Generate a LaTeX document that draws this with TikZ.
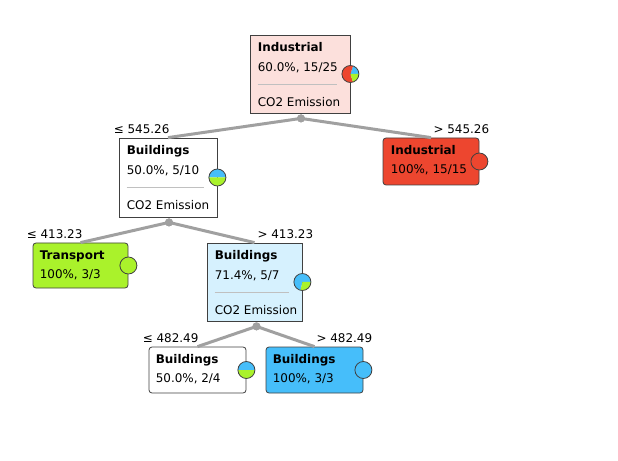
\documentclass[tikz,border=0pt]{standalone}
\usepackage{fontspec}
\setmainfont{DejaVu Sans}
\usepackage{tikz}
\usetikzlibrary{calc,positioning}

\definecolor{cred}{RGB}{237,70,47}
\definecolor{cblue}{RGB}{70,190,250}
\definecolor{cgreen}{RGB}{170,242,43}
\definecolor{boxline}{RGB}{64,64,64}
\definecolor{edgegray}{RGB}{160,160,160}
\definecolor{sepgray}{RGB}{192,192,192}

\begin{document}
\begin{tikzpicture}[x=1bp, y=-1bp, font=\fontsize{12}{14}\selectfont,
  inner/.style={rectangle, draw=boxline, line width=0.8bp, inner sep=0pt},
  leaf/.style={rectangle, draw=boxline, line width=0.8bp, rounded corners=3bp, inner sep=0pt, minimum width=97bp, minimum height=46bp},
  ttl/.style={anchor=base west, inner sep=0pt, font=\fontsize{12}{14}\selectfont\bfseries},
  txt/.style={anchor=base west, inner sep=0pt},
  sep/.style={draw=sepgray, line width=0.8bp},
  edge/.style={draw=edgegray, line width=3bp},
  split/.style={circle, fill=edgegray, inner sep=0pt, minimum size=8bp},
  pie/.style={draw=boxline, line width=0.8bp}]
  \useasboundingbox (0,0) rectangle (618,461);

  % boxes
  \node[inner, fill=cred!17, minimum width=100bp, minimum height=78bp] (root) at (300,74) {};
  \node[inner, fill=white, minimum width=98bp, minimum height=79bp] (bldA) at (168,177.5) {};
  \node[leaf, fill=cred, minimum width=96bp, minimum height=47bp] (indLeaf) at (431,161.5) {};
  \node[leaf, fill=cgreen, minimum width=95bp, minimum height=45bp] (trLeaf) at (80.5,265.5) {};
  \node[inner, fill=cblue!22, minimum width=95bp, minimum height=78bp] (bldB) at (254.5,282) {};
  \node[leaf, fill=white] (bldLeafA) at (197.5,370) {};
  \node[leaf, fill=cblue] (bldLeafB) at (314.5,370) {};

  % split points
  \node[split] (rootSplit) at ($(root.south)+(1,5)$) {};
  \node[split] (bldASplit) at ($(bldA.south)+(1,5)$) {};
  \node[split] (bldBSplit) at ($(bldB.south)+(2,5)$) {};

  % edges
  \draw[edge] (rootSplit.center) -- (bldA.north);
  \draw[edge] (rootSplit.center) -- (indLeaf.north);
  \draw[edge] (bldASplit.center) -- (trLeaf.north);
  \draw[edge] (bldASplit.center) -- (bldB.north);
  \draw[edge] (bldBSplit.center) -- (bldLeafA.north);
  \draw[edge] (bldBSplit.center) -- (bldLeafB.north);
  \node[split] at (rootSplit) {};
  \node[split] at (bldASplit) {};
  \node[split] at (bldBSplit) {};

  % edge labels
  \node[txt] (lblA) at ($(bldA.north west)+(-5,-4)$) {≤ 545.26};
  \node[txt, anchor=base east] (lblB) at ($(indLeaf.north east)+(10,-4)$) {> 545.26};
  \node[txt] (lblC) at ($(trLeaf.north west)+(-6,-4)$) {≤ 413.23};
  \node[txt, anchor=base east] (lblD) at ($(bldB.north east)+(11,-4)$) {> 413.23};
  \node[txt] (lblE) at ($(bldLeafA.north west)+(-6,-4)$) {≤ 482.49};
  \node[txt, anchor=base east] (lblF) at ($(bldLeafB.north east)+(9,-4)$) {> 482.49};

  % root
  \node[ttl] (rootT) at ($(root.north west)+(8,17)$) {Industrial};
  \node[txt] (rootP) at ($(root.north west)+(8,37)$) {60.0\%, 15/25};
  \draw[sep] ($(root.north west)+(8,50)$) -- ($(root.north east)+(-13,50)$);
  \node[txt] (rootS) at ($(root.north west)+(8,72)$) {CO2 Emission};

  % buildings 5/10
  \node[ttl] (bldAT) at ($(bldA.north west)+(8,17)$) {Buildings};
  \node[txt] (bldAP) at ($(bldA.north west)+(8,37)$) {50.0\%, 5/10};
  \draw[sep] ($(bldA.north west)+(8,50)$) -- ($(bldA.north east)+(-13,50)$);
  \node[txt] (bldAS) at ($(bldA.north west)+(8,72)$) {CO2 Emission};

  % buildings 5/7
  \node[ttl] (bldBT) at ($(bldB.north west)+(8,17)$) {Buildings};
  \node[txt] (bldBP) at ($(bldB.north west)+(8,37)$) {71.4\%, 5/7};
  \draw[sep] ($(bldB.north west)+(8,50)$) -- ($(bldB.north east)+(-13,50)$);
  \node[txt] (bldBS) at ($(bldB.north west)+(8,72)$) {CO2 Emission};

  % leaves
  \node[ttl] (indLeafT) at ($(indLeaf.north west)+(8,17)$) {Industrial};
  \node[txt] (indLeafP) at ($(indLeaf.north west)+(8,36)$) {100\%, 15/15};
  \node[ttl] (trLeafT) at ($(trLeaf.north west)+(7,17)$) {Transport};
  \node[txt] (trLeafP) at ($(trLeaf.north west)+(7,36)$) {100\%, 3/3};
  \node[ttl] (bldLeafAT) at ($(bldLeafA.north west)+(7,17)$) {Buildings};
  \node[txt] (bldLeafAP) at ($(bldLeafA.north west)+(7,36)$) {50.0\%, 2/4};
  \node[ttl] (bldLeafBT) at ($(bldLeafB.north west)+(7,17)$) {Buildings};
  \node[txt] (bldLeafBP) at ($(bldLeafB.north west)+(7,36)$) {100\%, 3/3};

  % pies
  \fill[cblue] (root.east) -- ++(0:8.5bp) arc[start angle=0, end angle=72, radius=8.5bp] -- cycle;
  \fill[cred] (root.east) -- ++(72:8.5bp) arc[start angle=72, end angle=288, radius=8.5bp] -- cycle;
  \fill[cgreen] (root.east) -- ++(288:8.5bp) arc[start angle=288, end angle=360, radius=8.5bp] -- cycle;
  \draw[pie] (root.east) circle[radius=8.5bp];

  \fill[cblue] (bldA.east) -- ++(0:8.5bp) arc[start angle=0, end angle=180, radius=8.5bp] -- cycle;
  \fill[cgreen] (bldA.east) -- ++(180:8.5bp) arc[start angle=180, end angle=360, radius=8.5bp] -- cycle;
  \draw[pie] (bldA.east) circle[radius=8.5bp];

  \fill[cblue] (bldB.east) -- ++(0:8.5bp) arc[start angle=0, end angle=257, radius=8.5bp] -- cycle;
  \fill[cgreen] (bldB.east) -- ++(257:8.5bp) arc[start angle=257, end angle=360, radius=8.5bp] -- cycle;
  \draw[pie] (bldB.east) circle[radius=8.5bp];

  \fill[cblue] (bldLeafA.east) -- ++(0:8.5bp) arc[start angle=0, end angle=180, radius=8.5bp] -- cycle;
  \fill[cgreen] (bldLeafA.east) -- ++(180:8.5bp) arc[start angle=180, end angle=360, radius=8.5bp] -- cycle;
  \draw[pie] (bldLeafA.east) circle[radius=8.5bp];

  \draw[pie, fill=cred] (indLeaf.east) circle[radius=8.5bp];
  \draw[pie, fill=cgreen] (trLeaf.east) circle[radius=8.5bp];
  \draw[pie, fill=cblue] (bldLeafB.east) circle[radius=8.5bp];
\end{tikzpicture}
\end{document}
